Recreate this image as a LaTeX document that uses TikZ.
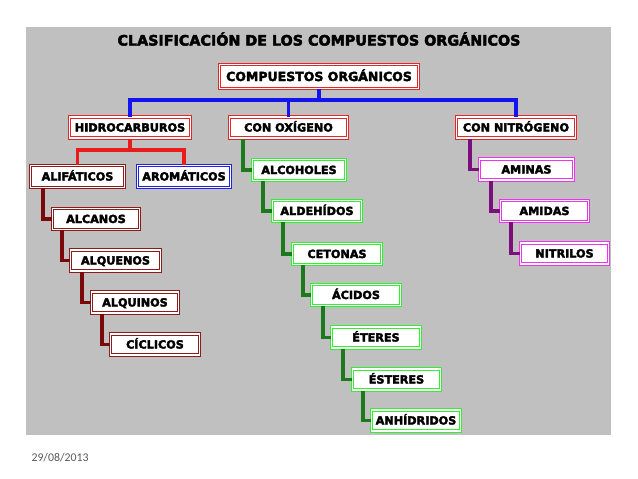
\documentclass[tikz,border=0pt]{standalone}
\usepackage{fontspec}
\setmainfont{DejaVu Sans}
\newfontfamily\heavyfont{DejaVu Sans}[BoldFeatures={FakeBold=3}]
\newfontfamily\datefont{Carlito}
\definecolor{panelgray}{HTML}{C0C0C0}
\definecolor{boxred}{HTML}{E02828}
\definecolor{boxmaroon}{HTML}{8B1C1C}
\definecolor{boxblue}{HTML}{1F1FE0}
\definecolor{boxgreen}{HTML}{33EE33}
\definecolor{boxpink}{HTML}{EE33EE}
\definecolor{linkblue}{HTML}{1414F0}
\definecolor{linkred}{HTML}{E81C1C}
\definecolor{linkmaroon}{HTML}{7A0A0A}
\definecolor{linkgreen}{HTML}{1C7A1C}
\definecolor{linkpurple}{HTML}{7D0F7D}

\begin{document}
\begin{tikzpicture}[
  x=1pt, y=-1pt,
  box/.style={rectangle, draw=#1, double=white, double distance=1.1pt, line width=1pt,
    fill=white, inner sep=0pt, minimum height=21pt, text height=8pt, text depth=0pt,
    font=\heavyfont\bfseries\fontsize{11.2}{11.2}\selectfont},
  link/.style={draw=#1, line width=3.2pt},
  title/.style={font=\heavyfont\bfseries\fontsize{14.3}{14.3}\selectfont}
]
\useasboundingbox (0,0) rectangle (638,479);

% Gray panel
\fill[panelgray] (26,27) rectangle (611,435);

% Title
\node[title] (titulo) at (319,39) {CLASIFICACIÓN DE LOS COMPUESTOS ORGÁNICOS};

% Top level
\node[box=boxred, minimum width=199pt, minimum height=24pt, text height=9pt,
  font=\heavyfont\bfseries\fontsize{12.5}{12.5}\selectfont] (comp) at (319,76.5) {COMPUESTOS ORGÁNICOS};

% Second level
\node[box=boxred, minimum width=121pt] (hidro) at (130,127.5) {HIDROCARBUROS};
\node[box=boxred, minimum width=118pt] (oxi) at (288.5,127.5) {CON OXÍGENO};
\node[box=boxred, minimum width=119pt] (nitro) at (516,127.5) {CON NITRÓGENO};

% Hydrocarbons
\node[box=boxmaroon, minimum width=94pt, minimum height=22pt] (alif) at (77.5,176.5) {ALIFÁTICOS};
\node[box=boxblue, minimum width=93pt, minimum height=22pt] (arom) at (184,176.5) {AROMÁTICOS};
\node[box=boxmaroon, minimum width=87pt] (alcanos) at (96,219) {ALCANOS};
\node[box=boxmaroon, minimum width=90pt] (alquenos) at (115.5,260.5) {ALQUENOS};
\node[box=boxmaroon, minimum width=87pt] (alquinos) at (135,302.5) {ALQUINOS};
\node[box=boxmaroon, minimum width=89pt] (ciclicos) at (155,344.5) {CÍCLICOS};

% Oxygen compounds
\node[box=boxgreen, minimum width=93pt] (alcoholes) at (299,170) {ALCOHOLES};
\node[box=boxgreen, minimum width=89pt] (aldehidos) at (317,211) {ALDEHÍDOS};
\node[box=boxgreen, minimum width=89pt] (cetonas) at (337,254) {CETONAS};
\node[box=boxgreen, minimum width=89pt] (acidos) at (356,295) {ÁCIDOS};
\node[box=boxgreen, minimum width=89pt] (eteres) at (376,337.5) {ÉTERES};
\node[box=boxgreen, minimum width=88pt] (esteres) at (396.5,379.5) {ÉSTERES};
\node[box=boxgreen, minimum width=89pt] (anhidridos) at (416,420.5) {ANHÍDRIDOS};

% Nitrogen compounds
\node[box=boxpink, minimum width=94pt] (aminas) at (526.5,169.5) {AMINAS};
\node[box=boxpink, minimum width=88pt] (amidas) at (544.5,211) {AMIDAS};
\node[box=boxpink, minimum width=88pt] (nitrilos) at (564.5,253.5) {NITRILOS};

% Date
\node[font=\datefont\fontsize{11.8}{11.8}\selectfont, text=black!65, anchor=west] (fecha) at (28,458) {29/08/2013};

% Connectors
\coordinate (bus) at (0,100);
\coordinate (redbus) at (0,150);
\draw[link=linkblue] (comp.south) -- (comp.south |- bus) -| (hidro.north);
\draw[link=linkblue] (comp.south |- bus) -| (nitro.north);
\draw[link=linkblue] (oxi.north |- bus) -- (oxi.north);

\draw[link=linkred] (hidro.south) -- (hidro.south |- redbus) -| (alif.north);
\draw[link=linkred] (hidro.south |- redbus) -| (arom.north);

\draw[link=linkmaroon] ([xshift=13pt]alif.south west) |- (alcanos.west);
\draw[link=linkmaroon] ([xshift=10pt]alcanos.south west) |- (alquenos.west);
\draw[link=linkmaroon] ([xshift=12pt]alquenos.south west) |- (alquinos.west);
\draw[link=linkmaroon] ([xshift=11pt]alquinos.south west) |- (ciclicos.west);

\draw[link=linkgreen] ([xshift=14pt]oxi.south west) |- (alcoholes.west);
\draw[link=linkgreen] ([xshift=11pt]alcoholes.south west) |- (aldehidos.west);
\draw[link=linkgreen] ([xshift=11pt]aldehidos.south west) |- (cetonas.west);
\draw[link=linkgreen] ([xshift=11pt]cetonas.south west) |- (acidos.west);
\draw[link=linkgreen] ([xshift=12pt]acidos.south west) |- (eteres.west);
\draw[link=linkgreen] ([xshift=12pt]eteres.south west) |- (esteres.west);
\draw[link=linkgreen] ([xshift=11pt]esteres.south west) |- (anhidridos.west);

\draw[link=linkpurple] ([xshift=14pt]nitro.south west) |- (aminas.west);
\draw[link=linkpurple] ([xshift=12pt]aminas.south west) |- (amidas.west);
\draw[link=linkpurple] ([xshift=11pt]amidas.south west) |- (nitrilos.west);

\end{tikzpicture}
\end{document}
